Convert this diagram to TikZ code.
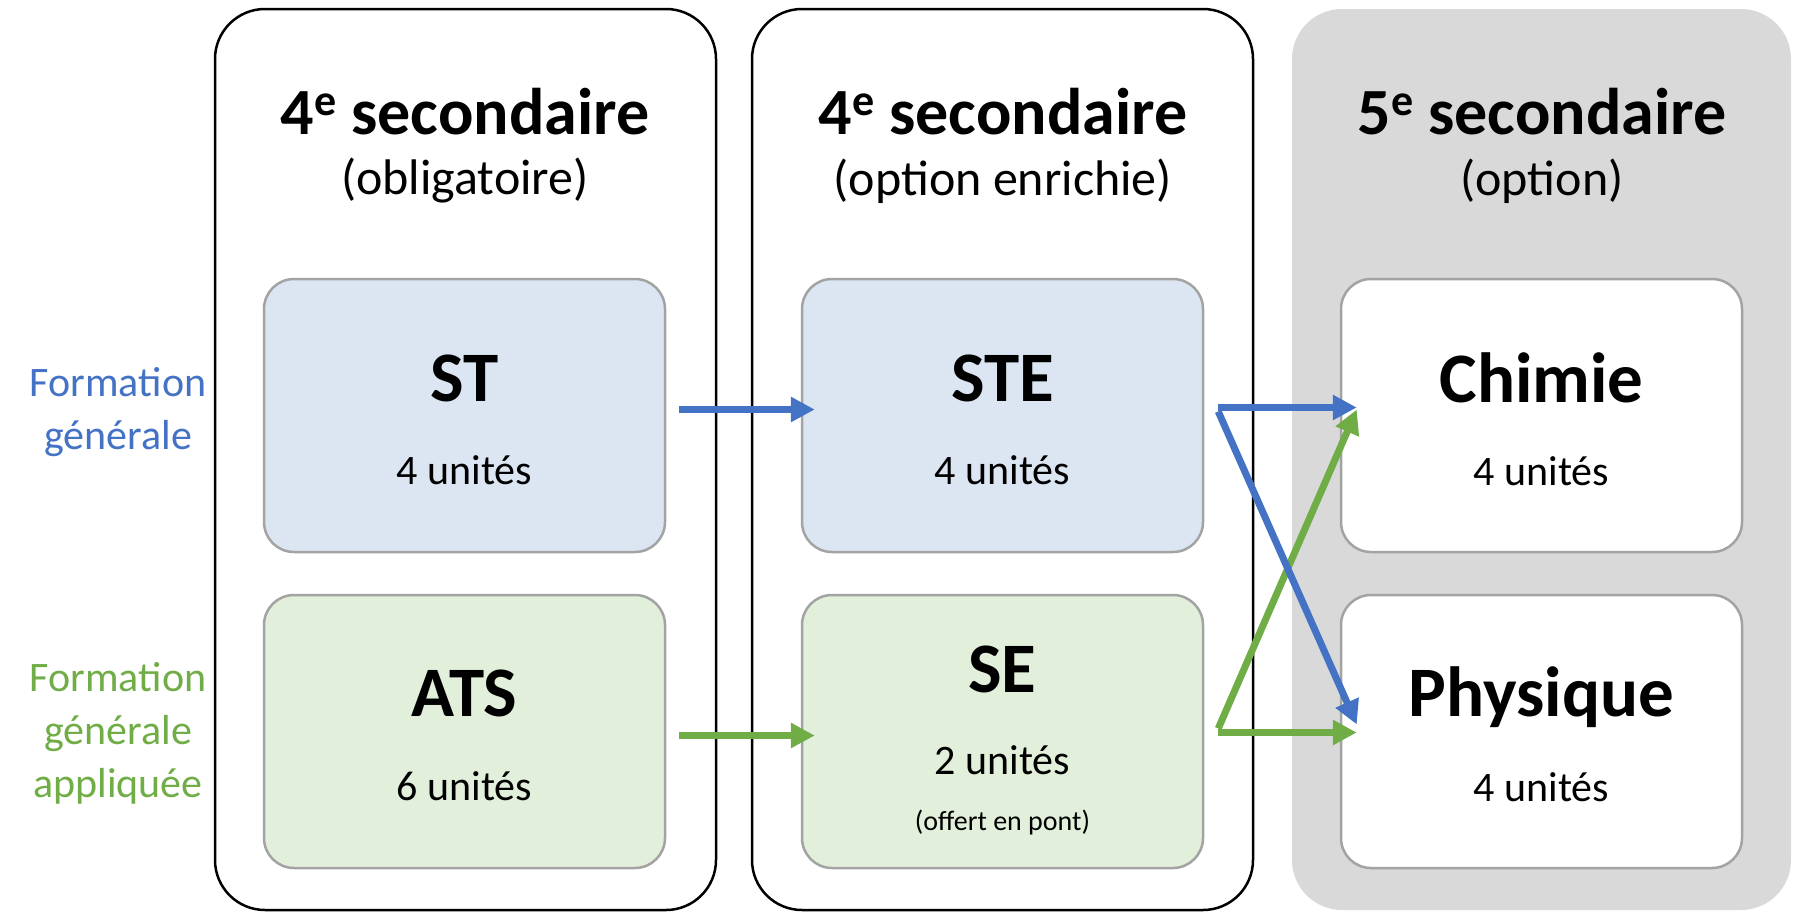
\documentclass[tikz,border=0pt]{standalone}
\usepackage{fontspec}
\setmainfont{Carlito}
\usetikzlibrary{arrows.meta}
\definecolor{fgblue}{HTML}{4472C4}
\definecolor{fggreen}{HTML}{70AD47}
\definecolor{fillblue}{HTML}{DCE6F3}
\definecolor{fillgreen}{HTML}{E2EFDA}
\definecolor{colgray}{HTML}{D9D9D9}
\definecolor{bordergray}{HTML}{A3A3A3}
\newcommand\supe[1]{\raisebox{0.3em}{\fontsize{44}{44}\selectfont #1}}
\begin{document}
\begin{tikzpicture}[x=1pt,y=-1pt,
  colbox/.style={draw=black,line width=2.5pt,rounded corners=50pt,minimum width=501pt,minimum height=901pt,inner sep=0pt},
  graycol/.style={fill=colgray,rounded corners=50pt,minimum width=499pt,minimum height=901pt,inner sep=0pt},
  subbox/.style={draw=bordergray,line width=2.5pt,rounded corners=30pt,minimum width=401pt,minimum height=273pt,inner sep=0pt},
  head/.style={inner sep=0pt,font=\fontsize{66}{72}\selectfont\bfseries},
  subhead/.style={inner sep=0pt,font=\fontsize{50}{56}\selectfont},
  title/.style={inner sep=0pt,font=\fontsize{71}{78}\selectfont\bfseries},
  units/.style={inner sep=0pt,font=\fontsize{42}{48}\selectfont},
  small/.style={inner sep=0pt,font=\fontsize{28}{32}\selectfont},
  side/.style={inner sep=0pt,align=center,font=\fontsize{42}{53}\selectfont},
  arr/.style={line width=7pt,-{Triangle[length=24pt,width=24pt]}}
]
\useasboundingbox (0,0) rectangle (1797,913);
% columns
\node[colbox] (c1) at (465.5,459.5) {};
\node[colbox] (c2) at (1002.5,459.5) {};
\node[graycol] (c3) at (1541.5,459.5) {};
% headers
\node[head] (h1) at (465,112) {4\supe{e} secondaire};
\node[subhead] (s1) at (465,181) {(obligatoire)};
\node[head] (h2) at (1003,112) {4\supe{e} secondaire};
\node[subhead] (s2) at (1003,181) {(option enrichie)};
\node[head] (h3) at (1542,112) {5\supe{e} secondaire};
\node[subhead] (s3) at (1542,181) {(option)};
% inner boxes
\node[subbox,fill=fillblue] (ST) at (464.5,415.5) {};
\node[subbox,fill=fillgreen] (ATS) at (464.5,731.5) {};
\node[subbox,fill=fillblue] (STE) at (1002.5,415.5) {};
\node[subbox,fill=fillgreen] (SE) at (1002.5,731.5) {};
\node[subbox,fill=white] (CH) at (1541.5,415.5) {};
\node[subbox,fill=white] (PH) at (1541.5,731.5) {};
% texts
\node[title] (tST) at (464.5,378) {ST};
\node[units] (uST) at (464.5,470) {4 unités};
\node[title] (tATS) at (464.5,693) {ATS};
\node[units] (uATS) at (464.5,786) {6 unités};
\node[title] (tSTE) at (1002.5,378) {STE};
\node[units] (uSTE) at (1002.5,470) {4 unités};
\node[title] (tSE) at (1002.5,669) {SE};
\node[units] (uSE) at (1002.5,760) {2 unités};
\node[small] (oSE) at (1002.5,823) {(offert en pont)};
\node[title] (tCH) at (1541.5,378) {Chimie};
\node[units] (uCH) at (1541.5,471) {4 unités};
\node[title] (tPH) at (1541.5,697) {Physique};
\node[units] (uPH) at (1541.5,787) {4 unités};
% side labels
\node[side,text=fgblue] (lg) at (118,412) {Formation\\générale};
\node[side,text=fggreen] (la) at (118,733) {Formation\\générale\\appliquée};
% arrows
\draw[arr,fgblue] ([xshift=13pt,yshift=6pt]ST.east) -- ([xshift=14pt,yshift=6pt]STE.west);
\draw[arr,fggreen] ([xshift=13pt,yshift=-4pt]ATS.east) -- ([xshift=14pt,yshift=-4pt]SE.west);
\draw[arr,fggreen] ([xshift=14pt,yshift=-1pt]SE.east) -- ([xshift=17pt,yshift=-1pt]PH.west);
\draw[arr,fggreen] ([xshift=14pt,yshift=3pt]SE.east) -- ([xshift=17pt,yshift=6pt]CH.west);
\draw[arr,fgblue] ([xshift=14pt,yshift=8pt]STE.east) -- ([xshift=17pt,yshift=8pt]CH.west);
\draw[arr,fgblue] ([xshift=14pt,yshift=4pt]STE.east) -- ([xshift=17pt,yshift=7pt]PH.west);
\end{tikzpicture}
\end{document}
